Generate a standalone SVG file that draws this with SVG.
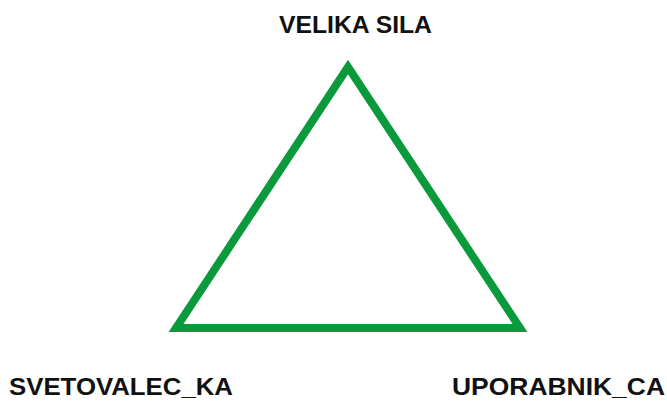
<svg xmlns="http://www.w3.org/2000/svg" width="667" height="401" viewBox="0 0 667 401">
<style>
.lbl{font-family:"Liberation Sans",Arial,sans-serif;font-weight:bold;font-size:23px;fill:#111;}
.edge{fill:none;stroke:#0a9a3c;stroke-width:8;stroke-linejoin:miter;stroke-miterlimit:10;}
</style>
<rect width="667" height="401" fill="#fff"/>
<g id="connectors">
<polygon class="edge" points="348,67 520,328 176,328"/>
</g>
<g id="node-velika-sila"><text class="lbl" x="279" y="33" textLength="153" lengthAdjust="spacingAndGlyphs">VELIKA SILA</text></g>
<g id="node-svetovalec-ka"><text class="lbl" x="9" y="395" textLength="224" lengthAdjust="spacingAndGlyphs">SVETOVALEC_KA</text></g>
<g id="node-uporabnik-ca"><text class="lbl" x="452" y="395" textLength="213" lengthAdjust="spacingAndGlyphs">UPORABNIK_CA</text></g>
</svg>
